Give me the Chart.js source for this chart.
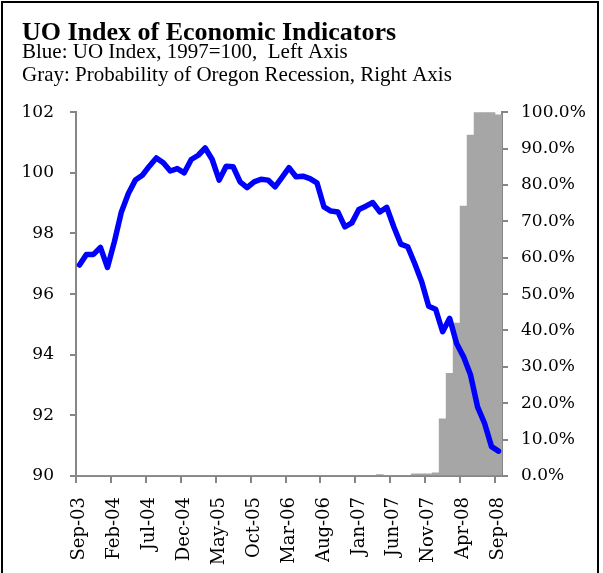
<!DOCTYPE html>
<html><head><meta charset="utf-8">
<script src="https://cdn.jsdelivr.net/npm/chart.js@4/dist/chart.umd.min.js"></script>
<style>
html,body{margin:0;padding:0;background:#fff;}
#wrap{position:relative;width:603px;height:573px;overflow:hidden;background:#fff;}
#frame{position:absolute;left:1px;top:1px;width:598px;height:640px;border:2px solid #000;box-sizing:border-box;pointer-events:none;}
canvas{position:absolute;left:0;top:0;}
</style></head>
<body><div id="wrap"><canvas id="c" width="603" height="573"></canvas><div id="frame"></div></div>
<script>
const months = ["Sep-03","Oct-03","Nov-03","Dec-03","Jan-04","Feb-04","Mar-04","Apr-04","May-04","Jun-04","Jul-04","Aug-04",
"Sep-04","Oct-04","Nov-04","Dec-04","Jan-05","Feb-05","Mar-05","Apr-05","May-05","Jun-05","Jul-05","Aug-05",
"Sep-05","Oct-05","Nov-05","Dec-05","Jan-06","Feb-06","Mar-06","Apr-06","May-06","Jun-06","Jul-06","Aug-06",
"Sep-06","Oct-06","Nov-06","Dec-06","Jan-07","Feb-07","Mar-07","Apr-07","May-07","Jun-07","Jul-07","Aug-07",
"Sep-07","Oct-07","Nov-07","Dec-07","Jan-08","Feb-08","Mar-08","Apr-08","May-08","Jun-08","Jul-08","Aug-08","Sep-08"];

const uoIndex = [96.96,97.31,97.31,97.54,96.88,97.73,98.71,99.32,99.76,99.92,100.22,100.49,
100.33,100.06,100.14,100.00,100.44,100.58,100.82,100.44,99.76,100.22,100.20,99.70,
99.51,99.70,99.79,99.76,99.54,99.85,100.17,99.87,99.89,99.81,99.67,98.88,
98.74,98.71,98.22,98.35,98.79,98.90,99.02,98.71,98.86,98.22,97.65,97.56,
97.01,96.41,95.60,95.50,94.76,95.20,94.37,93.93,93.33,92.28,91.74,90.97,90.82];

const recessionProb = [0,0,0,0,0,0,0,0,0,0,0,0,
0,0,0,0,0,0,0,0,0,0,0,0,
0,0,0,0,0,0,0,0,0,0,0,0,
0,0,0,0,0,0,0,0.4,0,0,0,0,
0.6,0.6,0.6,0.9,15.7,28.2,42.0,74.2,93.7,100,100,100,99.3];

const labelEvery = 5;
const titleText = "UO Index of Economic Indicators";
const subtitleLines = ["Blue: UO Index, 1997=100,  Left Axis", "Gray: Probability of Oregon Recession, Right Axis"];

const axisGray = '#868686';
const tickFont = {family: '"DejaVu Serif", serif', size: 17};

new Chart(document.getElementById('c'), {
  type: 'bar',
  data: {
    labels: months,
    datasets: [
      {type:'line', label:'UO Index', data: uoIndex, yAxisID:'y', borderColor:'#0000FF', borderWidth:5.5,
       pointRadius:0, tension:0, fill:false, borderJoinStyle:'round', borderCapStyle:'round', order:0},
      {type:'bar', label:'Probability of Oregon Recession', data: recessionProb, yAxisID:'y1',
       backgroundColor:'#A6A6A6', borderWidth:0, barPercentage:1.0, categoryPercentage:1.0, order:1}
    ]
  },
  options: {
    responsive:false, animation:false, devicePixelRatio:1,
    layout:{padding:{left:22, right:0, top:0, bottom:0}},
    plugins:{
      legend:{display:false}, tooltip:{enabled:false},
      title:{display:true, text:titleText, align:'start', color:'#000',
        font:{family:'"Liberation Serif", serif', size:26, weight:'bold', lineHeight:0.5},
        padding:{top:27, bottom:0}},
      subtitle:{display:true, text:subtitleLines, align:'start', color:'#000',
        font:{family:'"Liberation Serif", serif', size:21, weight:'normal', lineHeight:1.1},
        padding:{top:1, bottom:25}}
    },
    scales:{
      x:{
        offset:true,
        grid:{offset:true, drawOnChartArea:false, drawTicks:true, tickLength:7, lineWidth:2,
          color:(ctx)=> (ctx.index % labelEvery === 0 && ctx.index < months.length) ? axisGray : 'rgba(0,0,0,0)'},
        border:{display:true, color:axisGray, width:2},
        ticks:{autoSkip:false, minRotation:90, maxRotation:90, padding:14, color:'#000',
          font:{family:'"DejaVu Serif", serif', size:18},
          callback:function(v, i){ return i % labelEvery === 0 ? this.getLabelForValue(v) : ''; }},
        afterFit:(s)=>{ s.height = 97; }
      },
      y:{
        position:'left', min:90, max:102,
        grid:{drawOnChartArea:false, drawTicks:true, tickLength:6, color:axisGray, lineWidth:2},
        border:{display:true, color:axisGray, width:2},
        ticks:{stepSize:2, padding:16, color:'#000', font:tickFont},
        afterFit:(s)=>{ s.width = 54; }
      },
      y1:{
        position:'right', min:0, max:100,
        grid:{drawOnChartArea:false, drawTicks:true, tickLength:6, color:axisGray, lineWidth:2},
        border:{display:true, color:axisGray, width:2},
        ticks:{stepSize:10, padding:13, color:'#000', font:tickFont,
          callback:(v)=> v.toFixed(1) + '%'},
        afterFit:(s)=>{ s.width = 101; }
      }
    }
  }
});
</script>
</body></html>
